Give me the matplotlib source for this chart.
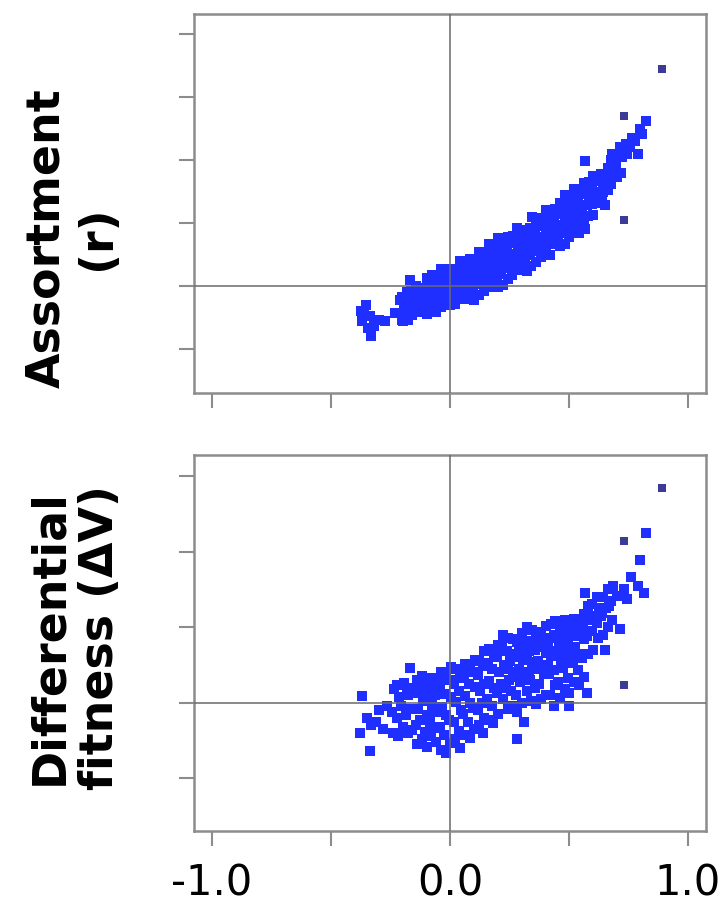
import matplotlib
matplotlib.use("Agg")
import matplotlib.pyplot as plt

plt.rcParams['font.family'] = ['DejaVu Sans']

# ---------------- data: top panel (assortment r) ----------------
x_top = [
    # lower-left cluster
    -0.376, -0.352, -0.337, -0.320, -0.330, -0.300, -0.275, -0.368, -0.345, -0.360,
    -0.230, -0.212, -0.200, -0.183, -0.167,
    # band
    -0.198, -0.204, -0.195, -0.202,
    -0.178, -0.184, -0.175, -0.182,
    -0.158, -0.164, -0.155, -0.162,
    -0.138, -0.144, -0.135, -0.142,
    -0.118, -0.124, -0.115, -0.122,
    -0.098, -0.104, -0.095, -0.102, -0.097,
    -0.078, -0.084, -0.075, -0.082, -0.077,
    -0.058, -0.064, -0.055, -0.062, -0.057,
    -0.038, -0.044, -0.035, -0.042, -0.037,
    -0.018, -0.024, -0.015, -0.022, -0.017,
    0.002, -0.004, 0.005, -0.002, 0.003,
    0.022, 0.016, 0.025, 0.018, 0.023,
    0.042, 0.036, 0.045, 0.038, 0.043,
    0.062, 0.056, 0.065, 0.058, 0.063,
    0.082, 0.076, 0.085, 0.078, 0.083,
    0.102, 0.096, 0.105, 0.098, 0.103,
    0.122, 0.116, 0.125, 0.118, 0.123,
    0.142, 0.136, 0.145, 0.138, 0.143,
    0.162, 0.156, 0.165, 0.158, 0.163,
    0.182, 0.176, 0.185, 0.178, 0.183,
    0.202, 0.196, 0.205, 0.198, 0.203,
    0.222, 0.216, 0.225, 0.218, 0.223,
    0.242, 0.236, 0.245, 0.238, 0.243,
    0.262, 0.256, 0.265, 0.258, 0.263,
    0.282, 0.276, 0.285, 0.278, 0.283,
    0.302, 0.296, 0.305, 0.298, 0.303,
    0.322, 0.316, 0.325, 0.318, 0.323,
    0.342, 0.336, 0.345, 0.338, 0.343,
    0.362, 0.356, 0.365, 0.358, 0.363,
    0.382, 0.376, 0.385, 0.378, 0.383,
    0.402, 0.396, 0.405, 0.398, 0.403,
    0.422, 0.416, 0.425, 0.418, 0.423,
    0.442, 0.436, 0.445, 0.438, 0.443,
    0.462, 0.456, 0.465, 0.458, 0.463,
    0.482, 0.476, 0.485, 0.478, 0.483,
    0.502, 0.496, 0.505, 0.498, 0.503,
    0.522, 0.516, 0.525, 0.518, 0.523,
    0.542, 0.536, 0.545, 0.538, 0.543,
    0.562, 0.556, 0.565, 0.558, 0.563,
    0.582, 0.576, 0.585, 0.578, 0.583,
    0.602, 0.596, 0.605, 0.598, 0.603,
    # fill between columns
    -0.070, -0.068, -0.072,
    -0.030, -0.028, -0.032,
    0.010, 0.012, 0.008,
    0.050, 0.052, 0.048,
    0.090, 0.092, 0.088,
    0.130, 0.132, 0.128,
    0.170, 0.172, 0.168,
    0.210, 0.212, 0.208,
    0.250, 0.252, 0.248,
    0.290, 0.292, 0.288,
    0.330, 0.332, 0.328,
    0.370, 0.372, 0.368,
    0.410, 0.412, 0.408,
    0.450, 0.452, 0.448,
    0.490, 0.492, 0.488,
    0.530, 0.532, 0.528,
    # upper tail
    0.622, 0.618, 0.625,
    0.638, 0.644, 0.635, 0.641,
    0.662, 0.658, 0.665,
    0.678, 0.684, 0.675, 0.683,
    0.702, 0.698, 0.705,
    0.718, 0.724, 0.715,
    0.742, 0.738,
    0.758, 0.764,
    0.776, 0.790,
    0.807, 0.800,
    0.822,
    0.567, 0.652, 0.567,
]
r_top = [
    -0.081, -0.060, -0.096, -0.128, -0.160, -0.108, -0.112, -0.112, -0.134, -0.090,
    -0.086, -0.044, -0.108, -0.066, 0.018,
    -0.111, -0.086, -0.061, -0.036,
    -0.109, -0.069, -0.044, -0.019,
    -0.092, -0.077, -0.042, -0.017,
    -0.080, -0.050, -0.025, 0.000,
    -0.083, -0.058, -0.033, -0.008,
    -0.090, -0.060, -0.030, -0.005, 0.025,
    -0.074, -0.044, -0.014, 0.016, 0.036,
    -0.083, -0.053, -0.028, 0.002, 0.027,
    -0.067, -0.037, -0.007, 0.018, 0.053,
    -0.056, -0.026, 0.004, 0.034, 0.054,
    -0.060, -0.030, 0.000, 0.025, 0.055,
    -0.058, -0.028, -0.003, 0.027, 0.052,
    -0.041, -0.011, 0.019, 0.044, 0.079,
    -0.040, -0.010, 0.020, 0.045, 0.075,
    -0.023, 0.007, 0.037, 0.067, 0.087,
    -0.046, -0.011, 0.019, 0.054, 0.084,
    -0.028, 0.007, 0.037, 0.072, 0.107,
    -0.016, 0.019, 0.049, 0.084, 0.109,
    -0.003, 0.032, 0.067, 0.097, 0.132,
    0.009, 0.044, 0.069, 0.089, 0.119,
    -0.003, 0.032, 0.087, 0.117, 0.152,
    0.002, 0.037, 0.067, 0.102, 0.132,
    0.021, 0.056, 0.086, 0.121, 0.156,
    0.035, 0.070, 0.100, 0.135, 0.160,
    0.050, 0.085, 0.120, 0.150, 0.185,
    0.065, 0.100, 0.125, 0.145, 0.175,
    0.049, 0.084, 0.114, 0.149, 0.179,
    0.063, 0.098, 0.153, 0.183, 0.218,
    0.077, 0.112, 0.142, 0.177, 0.212,
    0.092, 0.127, 0.157, 0.192, 0.217,
    0.106, 0.141, 0.176, 0.206, 0.241,
    0.097, 0.132, 0.162, 0.197, 0.227,
    0.133, 0.168, 0.193, 0.213, 0.243,
    0.128, 0.163, 0.193, 0.228, 0.263,
    0.134, 0.169, 0.224, 0.254, 0.289,
    0.155, 0.190, 0.220, 0.255, 0.280,
    0.174, 0.209, 0.244, 0.274, 0.309,
    0.168, 0.203, 0.233, 0.268, 0.298,
    0.192, 0.227, 0.257, 0.292, 0.327,
    0.221, 0.256, 0.281, 0.301, 0.331,
    0.225, 0.260, 0.290, 0.325, 0.350,
    -0.045, -0.010, 0.012,
    -0.040, 0.000, 0.025,
    -0.030, 0.010, 0.040,
    -0.015, 0.025, 0.050,
    -0.005, 0.035, 0.065,
    0.010, 0.050, 0.085,
    0.025, 0.062, 0.098,
    0.045, 0.080, 0.120,
    0.058, 0.099, 0.135,
    0.078, 0.112, 0.160,
    0.100, 0.138, 0.170,
    0.115, 0.150, 0.195,
    0.135, 0.175, 0.210,
    0.150, 0.190, 0.235,
    0.180, 0.218, 0.250,
    0.200, 0.240, 0.280,
    0.265, 0.300, 0.335,
    0.285, 0.320, 0.355, 0.300,
    0.305, 0.345, 0.375,
    0.325, 0.365, 0.400, 0.420,
    0.345, 0.385, 0.415,
    0.360, 0.410, 0.440,
    0.420, 0.450,
    0.440, 0.470,
    0.460, 0.420,
    0.482, 0.500,
    0.524,
    0.398, 0.256, 0.182,
]
# isolated points that render darker in the original
x_top_iso = [0.730, 0.730, 0.892]
r_top_iso = [0.540, 0.208, 0.688]

# ---------------- data: bottom panel (differential fitness dV) ----------------
x_bot = [
    -0.380, -0.370, -0.350, -0.337, -0.330, -0.310, -0.300, -0.280, -0.265,
    -0.238, -0.244, -0.235,
    -0.218, -0.224, -0.215, -0.222,
    -0.198, -0.204, -0.195,
    -0.178, -0.184, -0.175, -0.182,
    -0.167,
    -0.158, -0.164, -0.155,
    -0.138, -0.144, -0.135, -0.142, -0.137,
    -0.118, -0.124, -0.115, -0.122, -0.117,
    -0.098, -0.104, -0.095, -0.102, -0.097,
    -0.078, -0.084, -0.075, -0.082, -0.077,
    -0.058, -0.064, -0.055, -0.062, -0.057,
    -0.038, -0.044, -0.035, -0.042, -0.037,
    -0.018, -0.024, -0.015, -0.022, -0.017,
    0.002, -0.004, 0.005, -0.002, 0.003,
    0.022, 0.016, 0.025, 0.018, 0.023,
    0.042, 0.036, 0.045, 0.038, 0.043,
    0.062, 0.056, 0.065, 0.058, 0.063,
    0.082, 0.076, 0.085, 0.078, 0.083,
    0.102, 0.096, 0.105, 0.098, 0.103,
    0.122, 0.116, 0.125, 0.118, 0.123,
    0.142, 0.136, 0.145, 0.138, 0.143,
    0.162, 0.156, 0.165, 0.158, 0.163,
    0.182, 0.176, 0.185, 0.178, 0.183,
    0.202, 0.196, 0.205, 0.198, 0.203,
    0.222, 0.216, 0.225, 0.218, 0.223,
    0.242, 0.236, 0.245, 0.238, 0.243,
    0.262, 0.256, 0.265, 0.258, 0.263,
    0.282, 0.276, 0.285, 0.278, 0.283,
    0.302, 0.296, 0.305, 0.298, 0.303,
    0.322, 0.316, 0.325, 0.318, 0.323,
    0.342, 0.336, 0.345, 0.338, 0.343,
    0.362, 0.356, 0.365, 0.358, 0.363,
    0.382, 0.376, 0.385, 0.378, 0.383,
    0.402, 0.396, 0.405, 0.398, 0.403,
    0.422, 0.416, 0.425, 0.418, 0.423,
    0.442, 0.436, 0.445, 0.438, 0.443,
    0.462, 0.456, 0.465, 0.458, 0.463,
    0.482, 0.476, 0.485, 0.478, 0.483,
    0.502, 0.496, 0.505, 0.498, 0.503,
    0.522, 0.516, 0.525, 0.518, 0.523,
    0.542, 0.536, 0.545, 0.538, 0.543,
    0.562, 0.556, 0.565, 0.558, 0.563,
    0.582, 0.576, 0.585, 0.578,
    0.602, 0.596, 0.605, 0.598,
    0.622, 0.616, 0.625, 0.618,
    0.642, 0.636, 0.645,
    0.662, 0.656, 0.665,
    0.682, 0.676, 0.685,
    # fill in the dense core
    0.250, 0.252, 0.290, 0.292, 0.330, 0.332, 0.370, 0.372,
    0.410, 0.412, 0.450, 0.452, 0.490, 0.492, 0.530, 0.532,
    # scattered points
    0.140, 0.280, 0.310, 0.436, 0.500, 0.575, 0.567,
    0.760, 0.790, 0.730, 0.815, 0.700, 0.745, 0.668, 0.637, 0.714, 0.652, 0.800, 0.822,
]
dv_bot = [
    -0.040, 0.009, -0.020, -0.064, -0.030, -0.026, -0.010, -0.035, -0.005,
    -0.040, -0.012, 0.018,
    -0.044, -0.020, 0.008, 0.024,
    -0.032, -0.004, 0.026,
    -0.040, -0.016, 0.010, 0.020,
    0.046,
    -0.036, -0.008, 0.018,
    -0.055, -0.030, -0.008, 0.013, 0.030,
    -0.048, -0.023, 0.002, 0.020, 0.035,
    -0.059, -0.039, -0.017, 0.006, 0.024,
    -0.044, -0.026, -0.003, 0.017, 0.033,
    -0.052, -0.034, -0.012, 0.010, 0.028,
    -0.063, -0.032, -0.006, 0.021, 0.041,
    -0.067, -0.043, -0.017, 0.012, 0.034,
    -0.054, -0.023, 0.008, 0.030, 0.047,
    -0.048, -0.026, 0.001, 0.025, 0.045,
    -0.060, -0.038, -0.010, 0.016, 0.038,
    -0.043, -0.015, 0.009, 0.033, 0.051,
    -0.047, -0.025, -0.001, 0.025, 0.045,
    -0.035, -0.007, 0.021, 0.041, 0.057,
    -0.030, -0.010, 0.015, 0.037, 0.055,
    -0.020, 0.000, 0.025, 0.049, 0.069,
    -0.023, 0.005, 0.029, 0.053, 0.071,
    -0.027, -0.005, 0.019, 0.045, 0.065,
    -0.015, 0.013, 0.041, 0.061, 0.077,
    0.005, 0.025, 0.050, 0.072, 0.090,
    -0.008, 0.020, 0.044, 0.068, 0.086,
    -0.005, 0.015, 0.040, 0.064, 0.084,
    -0.012, 0.010, 0.034, 0.060, 0.080,
    0.000, 0.028, 0.056, 0.076, 0.092,
    0.015, 0.035, 0.060, 0.082, 0.100,
    0.002, 0.030, 0.054, 0.078, 0.096,
    -0.002, 0.020, 0.044, 0.070, 0.090,
    0.005, 0.025, 0.050, 0.074, 0.094,
    0.010, 0.038, 0.066, 0.086, 0.102,
    0.010, 0.038, 0.062, 0.086, 0.104,
    0.023, 0.043, 0.068, 0.090, 0.108,
    0.006, 0.028, 0.052, 0.078, 0.098,
    0.018, 0.046, 0.074, 0.094, 0.110,
    0.013, 0.033, 0.058, 0.082, 0.102,
    0.027, 0.052, 0.074, 0.095, 0.111,
    0.023, 0.043, 0.065, 0.088, 0.106,
    0.034, 0.059, 0.084, 0.102, 0.117,
    0.065, 0.088, 0.110, 0.128,
    0.070, 0.095, 0.115, 0.130,
    0.085, 0.105, 0.125, 0.140,
    0.090, 0.115, 0.140,
    0.100, 0.125, 0.150,
    0.110, 0.135, 0.155,
    0.030, 0.055, 0.045, 0.070, 0.040, 0.068, 0.055, 0.080,
    0.050, 0.078, 0.065, 0.090, 0.060, 0.088, 0.062, 0.092,
    -0.040, -0.048, -0.026, -0.004, -0.004, 0.013, 0.145,
    0.167, 0.154, 0.150, 0.145, 0.141, 0.137, 0.128, 0.119, 0.097, 0.070, 0.189, 0.225,
]
x_bot_iso = [0.730, 0.730, 0.892]
dv_bot_iso = [0.214, 0.024, 0.284]

xticks = [-1.0, -0.5, 0.0, 0.5, 1.0]
xticklabels = ['-1.0', '', '0.0', '', '1.0']
r_ticks = [-0.2, 0.0, 0.2, 0.4, 0.6, 0.8]
dv_ticks = [-0.1, 0.0, 0.1, 0.2, 0.3]

# ---------------- figure ----------------
W, H = 722, 915
fig = plt.figure(figsize=(W / 100, H / 100), dpi=100)

def frac(l, t, r, b):
    return [l / W, 1 - b / H, (r - l) / W, (b - t) / H]

ax1 = fig.add_axes(frac(194, 14, 706, 393))
ax2 = fig.add_axes(frac(194, 455, 706, 831))

blue = '#1f2fff'
dark = '#3c3c96'
spine_c = '#8c8c8c'
zero_c = '#6a6a6a'

for ax, xs, ys, xi, yi, yt, ylim in [
    (ax1, x_top, r_top, x_top_iso, r_top_iso, r_ticks, (-0.340, 0.864)),
    (ax2, x_bot, dv_bot, x_bot_iso, dv_bot_iso, dv_ticks, (-0.170, 0.328)),
]:
    ax.scatter(xs, ys, s=46, marker='s', color=blue, linewidths=0, zorder=2)
    ax.scatter(xi, yi, s=32, marker='s', color=dark, linewidths=0, zorder=2)
    ax.axhline(0, color=zero_c, lw=1.1, zorder=3)
    ax.axvline(0, color=zero_c, lw=1.1, zorder=3)
    ax.set_xlim(-1.076, 1.076)
    ax.set_ylim(*ylim)
    ax.set_xticks(xticks)
    ax.set_yticks(yt)
    ax.set_yticklabels([])
    for sp in ax.spines.values():
        sp.set_color(spine_c)
        sp.set_linewidth(1.8)
    ax.tick_params(direction='out', length=10.5, width=1.5, color=spine_c,
                   labelsize=30, pad=12)

ax1.set_xticklabels([])
ax2.set_xticklabels(xticklabels, fontsize=30)

fig.text(72 / W, 1 - 238 / H, 'Assortment\n(r)', rotation=90, ha='center',
         va='center', fontsize=33, linespacing=1.15, multialignment='center',
         fontweight='bold')
fig.text(75 / W, 1 - 637 / H, 'Differential\nfitness (ΔV)', rotation=90,
         ha='center', va='center', fontsize=33, linespacing=1.15,
         multialignment='center', fontweight='bold')

fig.savefig('out.png', dpi=100)
